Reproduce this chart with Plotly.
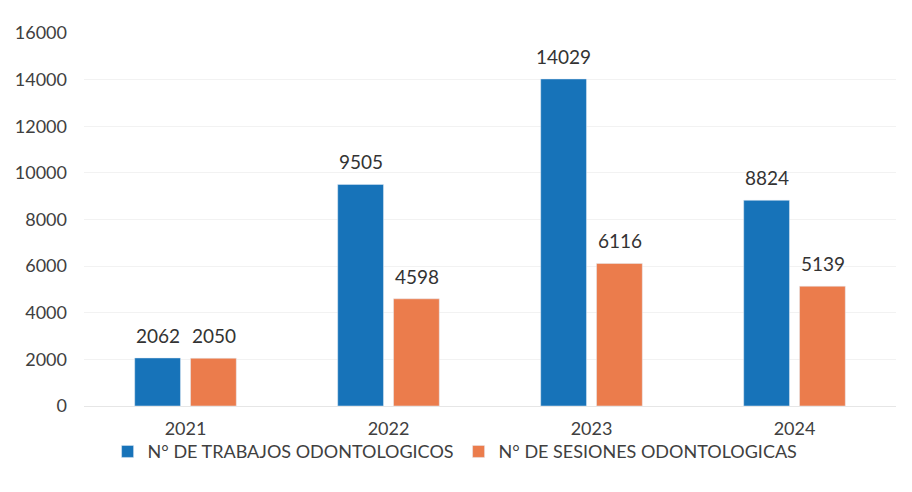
import plotly.graph_objects as go

years = ["2021", "2022", "2023", "2024"]
trabajos = [2062, 9505, 14029, 8824]
sesiones = [2050, 4598, 6116, 5139]

BLUE = "#1773b9"
ORANGE = "#eb7c4c"
TXT = "#404040"
FONT = "Lato, 'Open Sans', sans-serif"

fig = go.Figure()
fig.add_trace(go.Bar(x=years, y=trabajos, name="N° DE TRABAJOS ODONTOLOGICOS",
                     marker_color=BLUE))
fig.add_trace(go.Bar(x=years, y=sesiones, name="N° DE SESIONES ODONTOLOGICAS",
                     marker_color=ORANGE))

# value labels above bars (x given as category index)
for vals, shift in ((trabajos, -28), (sesiones, 28)):
    for i, v in enumerate(vals):
        fig.add_annotation(x=i, y=v, text=str(v), showarrow=False, xshift=shift,
                           yanchor="bottom", yshift=9,
                           font=dict(size=19, color="#333333"))

fig.update_layout(
    width=912, height=492,
    margin=dict(l=76, r=24, t=25, b=94),
    paper_bgcolor="white", plot_bgcolor="white",
    barmode="group", bargap=0.45, bargroupgap=0.18,
    font=dict(family=FONT, size=18, color=TXT),
    showlegend=True,
    legend=dict(orientation="h", x=0.457, xanchor="center", y=-0.073, yanchor="top",
                bgcolor="rgba(0,0,0,0)",
                font=dict(size=18, color=TXT), traceorder="normal"),
)
fig.update_xaxes(type="category", range=[-0.5, 3.5], showgrid=False, showline=True,
                 linecolor="#e6e6e6", tickfont=dict(size=18, color=TXT),
                 ticks="outside", ticklen=6, tickcolor="rgba(0,0,0,0)",
                 automargin=False)
fig.update_yaxes(range=[0, 16000], dtick=2000, tickformat="d", showgrid=True,
                 gridcolor="#f2f2f2", zeroline=False,
                 tickfont=dict(size=18, color=TXT),
                 ticklabelstandoff=16, showline=False, automargin=False)

fig.write_html("out.html")
